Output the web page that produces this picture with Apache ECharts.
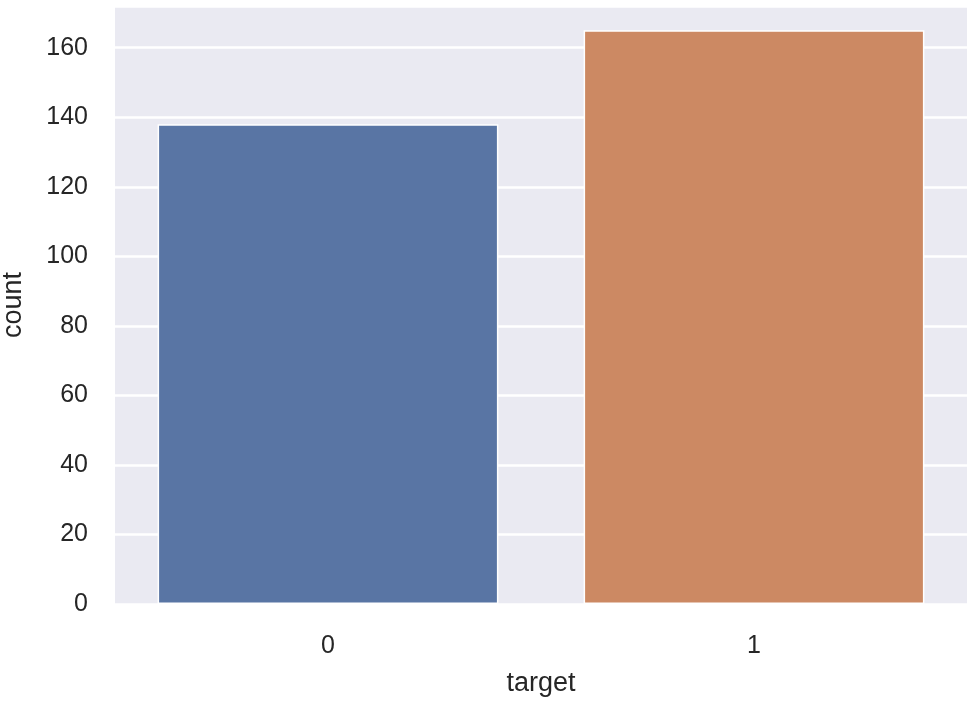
<!DOCTYPE html>
<html>
<head>
<meta charset="utf-8">
<script src="https://cdn.jsdelivr.net/npm/echarts@6/dist/echarts.min.js"></script>
<style>
html,body{margin:0;padding:0;background:#fff;}
#chart{width:975px;height:702px;}
</style>
</head>
<body>
<div id="chart"></div>
<script>
const categories = ['0', '1'];
const counts = [138, 165];
const barColors = ['#5975a4', '#cc8963'];
const yTicks = [0, 20, 40, 60, 80, 100, 120, 140, 160];

const chart = echarts.init(document.getElementById('chart'));
const font = 'Liberation Sans, Arial, sans-serif';
chart.setOption({
  animation: false,
  backgroundColor: '#ffffff',
  grid: { left: 115, right: 8, top: 6, bottom: 98, show: true, backgroundColor: '#eaeaf2', borderWidth: 0, containLabel: false, outerBoundsMode: 'none' },
  xAxis: {
    type: 'category',
    data: categories,
    name: 'target',
    nameLocation: 'middle',
    nameGap: 66,
    nameTextStyle: { fontFamily: font, fontSize: 27, color: '#262626' },
    axisLine: { show: false },
    axisTick: { show: false },
    axisLabel: { fontFamily: font, fontSize: 25, color: '#262626', margin: 30 },
    splitLine: { show: false }
  },
  yAxis: {
    type: 'value',
    min: 0,
    max: 172,
    interval: 20,
    name: 'count',
    nameLocation: 'middle',
    nameGap: 88,
    nameTextStyle: { fontFamily: font, fontSize: 27, color: '#262626' },
    axisLine: { show: false },
    axisTick: { show: false },
    axisLabel: {
      fontFamily: font, fontSize: 25, color: '#262626', margin: 27,
      showMaxLabel: false,
      formatter: v => (yTicks.includes(v) ? String(v) : '')
    },
    splitLine: { show: true, lineStyle: { color: '#ffffff', width: 2.5 } }
  },
  series: [{
    type: 'bar',
    barWidth: '80%',
    data: counts.map((v, i) => ({ value: v, itemStyle: { color: barColors[i] } })),
    itemStyle: { borderColor: '#ffffff', borderWidth: 1.5 }
  }]
});
</script>
</body>
</html>
